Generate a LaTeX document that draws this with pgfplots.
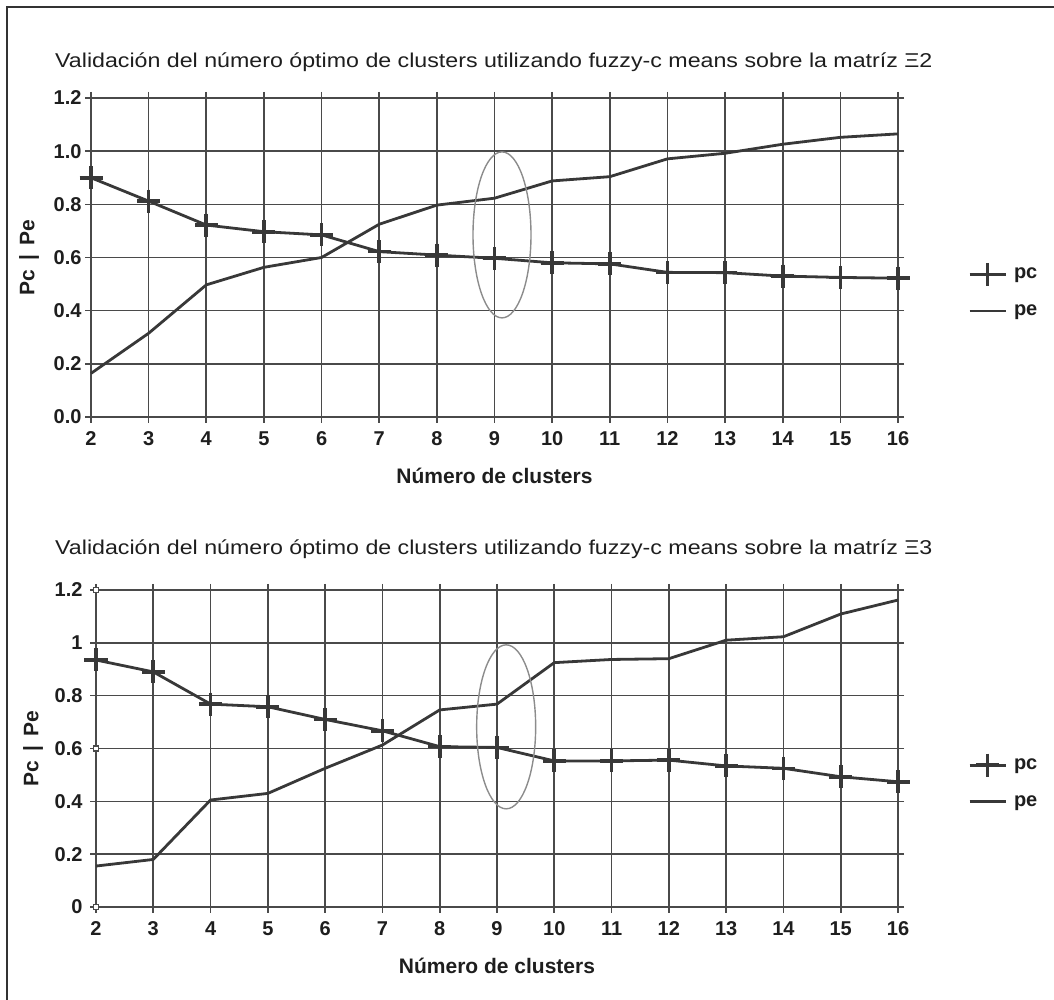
\documentclass[border=0pt]{standalone}
\usepackage{fontspec}
\setmainfont{Liberation Sans}
\newfontfamily\titlefont{Liberation Sans}[FakeStretch=1.16]
\usepackage{pgfplots}
\pgfplotsset{compat=1.18}
\definecolor{ln}{HTML}{383838}
\definecolor{gr}{HTML}{4A4A4A}
\definecolor{el}{HTML}{8C8C8C}
\definecolor{tx}{HTML}{1E1E1E}

\pgfplotstableread{
x pc pe
2 0.900 0.164
3 0.812 0.315
4 0.722 0.497
5 0.697 0.563
6 0.685 0.600
7 0.622 0.725
8 0.609 0.797
9 0.597 0.823
10 0.580 0.888
11 0.576 0.904
12 0.544 0.971
13 0.543 0.992
14 0.530 1.026
15 0.525 1.052
16 0.522 1.065
}\tabA

\pgfplotstableread{
x pc pe
2 0.935 0.155
3 0.890 0.180
4 0.768 0.405
5 0.758 0.430
6 0.710 0.525
7 0.667 0.613
8 0.607 0.746
9 0.604 0.768
10 0.553 0.925
11 0.553 0.937
12 0.556 0.940
13 0.534 1.010
14 0.525 1.023
15 0.493 1.109
16 0.474 1.162
}\tabB

\pgfplotsset{
  myax/.style={
    scale only axis,
    xmin=2, xmax=16, ymin=0, ymax=1.2,
    xtick={2,3,4,5,6,7,8,9,10,11,12,13,14,15,16},
    ytick={0,0.2,0.4,0.6,0.8,1,1.2},
    grid=major,
    grid style={gr, line width=1.6pt},
    axis line style={gr, line width=1.6pt},
    major tick style={gr, line width=1.6pt},
    tick align=outside,
    major tick length=6pt,
    /pgf/number format/assume math mode=true,
    tick label style={font=\fontsize{20}{23}\selectfont\bfseries, text=tx},
    xticklabel style={yshift=-5pt},
    label style={font=\fontsize{21}{24}\selectfont\bfseries, text=tx},
    xlabel={Número de clusters},
    ylabel={Pc \,|\, Pe},
    xlabel style={at={(axis description cs:0.5,0)}, anchor=center, yshift=-59pt},
    legend style={draw=none, fill=none, font=\fontsize{20}{23}\selectfont\bfseries, text=tx,
      at={(1,0.395)}, anchor=west, xshift=70pt, row sep=17pt, inner sep=0pt,
      nodes={inner xsep=7pt}},
    legend cell align=left,
    legend image code/.code={\draw[mark repeat=2,mark phase=2,##1] plot coordinates {(0pt,0pt) (18pt,0pt) (36pt,0pt)};},
    clip=false,
  },
  pcst/.style={ln, line width=2.8pt, mark=+, mark size=11.5pt, mark options={line width=3.6pt}},
  pest/.style={ln, line width=2.8pt},
}

\begin{document}
\begin{tikzpicture}[x=1pt,y=1pt]
\path[use as bounding box] (0,0) rectangle (1054,1000);
\draw[line width=2pt, black!80] (1070,993) -- (7,993) -- (7,-10);

\node[anchor=base west, font=\titlefont\fontsize{20}{24}\selectfont, text=tx, inner sep=0pt] at (55,932)
  {Validación del número óptimo de clusters utilizando fuzzy-c means sobre la matríz Ξ2};
\node[anchor=base west, font=\titlefont\fontsize{20}{24}\selectfont, text=tx, inner sep=0pt] at (55,445)
  {Validación del número óptimo de clusters utilizando fuzzy-c means sobre la matríz Ξ3};

\begin{axis}[myax, at={(91pt,583pt)}, anchor=south west, width=807pt, height=319pt,
  yticklabel style={/pgf/number format/.cd, fixed, fixed zerofill, precision=1},
  ylabel style={at={(axis description cs:0,0.5)}, anchor=center, yshift=62pt}]
\addplot[pcst] table[x=x,y=pc] {\tabA};
\addlegendentry{pc}
\addplot[pest] table[x=x,y=pe] {\tabA};
\addlegendentry{pe}
\draw[el, line width=1.4pt] (axis cs:9.13,0.685) ellipse [x radius=29pt, y radius=83pt];
\end{axis}

\begin{axis}[myax, at={(96pt,93pt)}, anchor=south west, width=802pt, height=317pt,
  yticklabel style={xshift=-4pt},
  ylabel style={at={(axis description cs:0,0.5)}, anchor=center, yshift=63pt}]
\addplot[pcst] table[x=x,y=pc] {\tabB};
\addlegendentry{pc}
\addplot[pest] table[x=x,y=pe] {\tabB};
\addlegendentry{pe}
\addplot[only marks, mark=square*, mark size=2.5pt, mark options={fill=white, draw=gr, line width=1.2pt}, forget plot]
  coordinates {(2,0) (2,0.6) (2,1.2)};
\draw[el, line width=1.4pt] (axis cs:9.16,0.682) ellipse [x radius=29.5pt, y radius=82pt];
\end{axis}
\end{tikzpicture}
\end{document}
